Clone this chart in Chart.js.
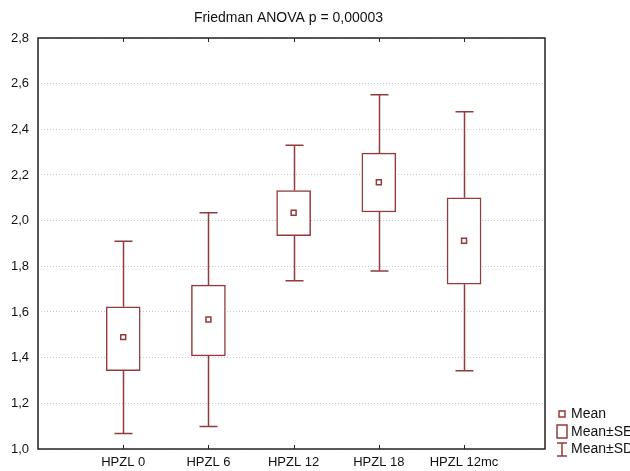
<!DOCTYPE html>
<html><head><meta charset="utf-8">
<script src="https://cdn.jsdelivr.net/npm/chart.js@4.4.1/dist/chart.umd.min.js"></script>
<style>html,body{margin:0;padding:0;background:#fff}#wrap{width:630px;height:471px}</style>
</head><body><div id="wrap"><canvas id="c" width="630" height="471"></canvas></div>
<script>
const titleText = 'Friedman ANOVA p = 0,00003';
const categories = ['HPZL 0','HPZL 6','HPZL 12','HPZL 18','HPZL 12mc'];
const means  = [1.490, 1.567, 2.035, 2.168, 1.912];
const seLow  = [1.343, 1.408, 1.934, 2.038, 1.722];
const seHigh = [1.623, 1.718, 2.132, 2.296, 2.100];
const sdLow  = [1.068, 1.098, 1.737, 1.780, 1.343];
const sdHigh = [1.910, 2.035, 2.330, 2.552, 2.477];
const yTicks = [1.0, 1.2, 1.4, 1.6, 1.8, 2.0, 2.2, 2.4, 2.6, 2.8];
const legendLabels = ['Mean', 'Mean±SE', 'Mean±SD'];

const RED = '#933b3b';
const FONT = '"Liberation Sans", Arial, sans-serif';

const deco = {
  id: 'deco',
  beforeDatasetsDraw(chart) {
    const {ctx, scales: {x, y}} = chart;
    ctx.save();
    ctx.strokeStyle = RED; ctx.lineWidth = 1.5;
    categories.forEach((c, i) => {
      const px = Math.round(x.getPixelForValue(i)) + 0.5;
      ctx.beginPath();
      ctx.moveTo(px, y.getPixelForValue(sdLow[i])); ctx.lineTo(px, y.getPixelForValue(seLow[i]));
      ctx.moveTo(px, y.getPixelForValue(seHigh[i])); ctx.lineTo(px, y.getPixelForValue(sdHigh[i]));
      const hw = 9;
      ctx.moveTo(px - hw, y.getPixelForValue(sdLow[i])); ctx.lineTo(px + hw, y.getPixelForValue(sdLow[i]));
      ctx.moveTo(px - hw, y.getPixelForValue(sdHigh[i])); ctx.lineTo(px + hw, y.getPixelForValue(sdHigh[i]));
      ctx.stroke();
    });
    ctx.restore();
  },
  afterDraw(chart) {
    const {ctx, chartArea: a, scales: {x}} = chart;
    ctx.save();
    ctx.strokeStyle = '#222'; ctx.lineWidth = 1.5;
    ctx.strokeRect(a.left, a.top, a.right - a.left, a.bottom - a.top);
    ctx.lineWidth = 1;
    categories.forEach((c, i) => {
      const px = Math.round(x.getPixelForValue(i)) + 0.5;
      ctx.beginPath();
      ctx.moveTo(px, a.bottom); ctx.lineTo(px, a.bottom - 4);
      ctx.moveTo(px, a.top); ctx.lineTo(px, a.top + 4);
      ctx.stroke();
    });
    ctx.fillStyle = '#111';
    ctx.font = '14px ' + FONT;
    ctx.textAlign = 'center'; ctx.textBaseline = 'middle';
    ctx.fillText(titleText, (a.left + a.right) / 2 - 3, 18);
    // legend
    ctx.font = '14px ' + FONT;
    ctx.textAlign = 'left';
    ctx.strokeStyle = RED; ctx.lineWidth = 1.5;
    const ix = 562, tx = 571;
    const ly = [414, 432, 449];
    ctx.strokeRect(ix - 3, ly[0] - 3, 6, 6);
    ctx.strokeRect(ix - 5, ly[1] - 7, 10, 13);
    ctx.beginPath();
    ctx.moveTo(ix - 5, ly[2] - 6); ctx.lineTo(ix + 5, ly[2] - 6);
    ctx.moveTo(ix, ly[2] - 6); ctx.lineTo(ix, ly[2] + 7);
    ctx.moveTo(ix - 5, ly[2] + 7); ctx.lineTo(ix + 5, ly[2] + 7);
    ctx.stroke();
    ctx.fillStyle = '#111';
    legendLabels.forEach((t, k) => ctx.fillText(t, tx, ly[k]));
    ctx.restore();
  }
};

new Chart(document.getElementById('c'), {
  type: 'bar',
  data: {
    datasets: [
      {
        type: 'scatter',
        data: means.map((v, i) => ({x: i, y: v})),
        pointStyle: 'rect', pointRadius: 3.5, pointHoverRadius: 3.5,
        borderColor: RED, backgroundColor: '#fff', borderWidth: 1.5,
        order: 0
      },
      {
        type: 'bar',
        data: categories.map((c, i) => ({x: i, y: [seLow[i], seHigh[i]]})),
        backgroundColor: '#fff', borderColor: RED, borderWidth: 1.5,
        borderSkipped: false, barThickness: 34,
        order: 1
      }
    ]
  },
  plugins: [deco],
  options: {
    responsive: false, animation: false,
    layout: {padding: {top: 38, right: 85, left: 0, bottom: 0}},
    plugins: {legend: {display: false}, tooltip: {enabled: false}, title: {display: false}},
    scales: {
      x: {
        type: 'linear', min: -1, max: 4.95, offset: false,
        afterBuildTicks: s => { s.ticks = categories.map((c, i) => ({value: i})); },
        afterFit: s => { s.height = 22; },
        grid: {display: false, drawTicks: false},
        border: {display: false},
        ticks: {
          autoSkip: false, maxRotation: 0, padding: 6,
          color: '#111', font: {family: FONT, size: 13},
          callback: v => categories[v] ?? ''
        }
      },
      y: {
        min: 1.0, max: 2.8,
        afterBuildTicks: s => { s.ticks = yTicks.map(v => ({value: v})); },
        afterFit: s => { s.width = 38; },
        grid: {drawTicks: false, color: '#c8c8c8', lineWidth: 1},
        border: {display: false, dash: [1, 2]},
        ticks: {
          padding: 9, color: '#111', font: {family: FONT, size: 13},
          callback: v => v.toFixed(1).replace('.', ',')
        }
      }
    }
  }
});
</script></body></html>
